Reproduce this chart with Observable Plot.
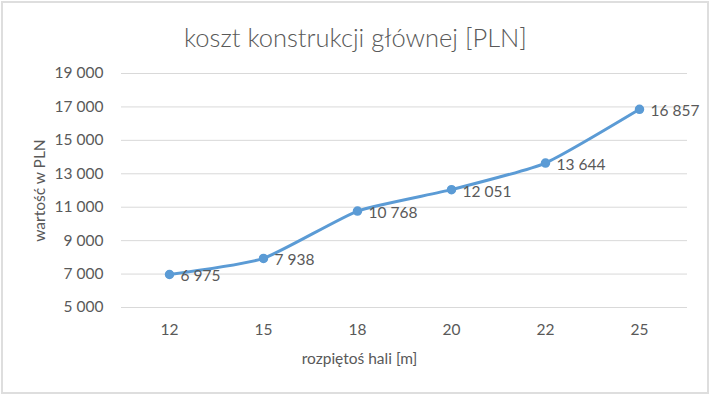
<!DOCTYPE html>
<html>
<head>
<meta charset="utf-8">
<script src="https://cdn.jsdelivr.net/npm/d3@7"></script>
<script src="https://cdn.jsdelivr.net/npm/@observablehq/plot@0.6"></script>
<style>
  body { margin: 0; background: #fff; }
  #chart svg { display: block; outline: 2px solid #dedede; outline-offset: -3px; }
</style>
</head>
<body>
<div id="chart"></div>
<script>
const title = "koszt konstrukcji głównej [PLN]";
const xLabel = "rozpiętoś hali [m]";
const yLabel = "wartość w PLN";
const spans = ["12", "15", "18", "20", "22", "25"];
const costs = [6975, 7938, 10768, 12051, 13644, 16857];
const yTicks = [5000, 7000, 9000, 11000, 13000, 15000, 17000, 19000];

const data = spans.map((s, i) => ({span: s, cost: costs[i]}));
const fmt = d3.formatLocale({decimal: ",", thousands: "\u00a0", grouping: [3]}).format(",d");
const grey = "#595959";
const blue = "#5b9bd5";

const chart = Plot.plot({
  width: 710,
  height: 395,
  marginTop: 73,
  marginBottom: 88,
  marginLeft: 121,
  marginRight: 23,
  style: {fontFamily: "Lato, 'Open Sans', sans-serif", fontSize: "15px", color: grey, background: "#fff"},
  x: {type: "point", domain: spans, padding: 0.5, label: null},
  y: {domain: [5000, 19000], label: null},
  marks: [
    Plot.gridY(yTicks, {stroke: "#d9d9d9", strokeOpacity: 1, strokeWidth: 1}),
    Plot.axisY(yTicks, {tickSize: 0, tickPadding: 18, tickFormat: fmt, fill: grey, fontSize: 15.5}),
    Plot.axisX({tickSize: 0, tickPadding: 16, fill: grey, fontSize: 15.5}),
    Plot.line(data, {x: "span", y: "cost", stroke: blue, strokeWidth: 3, curve: "cardinal", tension: 0.5}),
    Plot.dot(data, {x: "span", y: "cost", r: 4, fill: blue, stroke: blue}),
    Plot.text(data, {x: "span", y: "cost", text: d => fmt(d.cost), textAnchor: "start", dx: 11, dy: 2, fill: grey, fontSize: 15.5}),
    Plot.text([title], {frameAnchor: "top", dx: -49, dy: -45, fontSize: 25.5, fill: grey, fontWeight: 300}),
    Plot.text([xLabel], {frameAnchor: "bottom", dx: -45, dy: 56, fontSize: 15.5, fill: grey}),
    Plot.text([yLabel], {frameAnchor: "left", textAnchor: "middle", dx: -81, rotate: -90, fontSize: 15.5, fill: grey})
  ]
});
document.getElementById("chart").append(chart);
</script>
</body>
</html>
